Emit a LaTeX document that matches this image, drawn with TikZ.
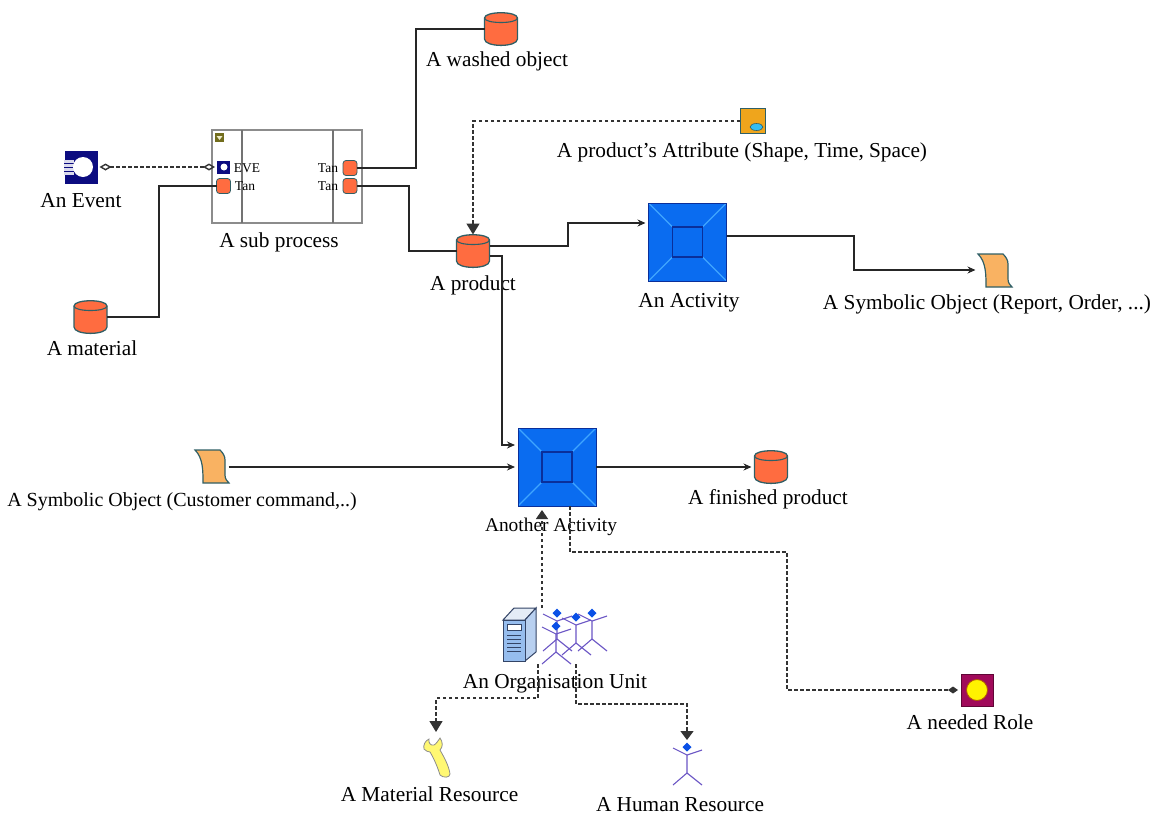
\documentclass[tikz,border=0pt]{standalone}
\usepackage{fontspec}
\setmainfont{Liberation Serif}
\usetikzlibrary{arrows.meta}
\definecolor{tanfill}{HTML}{FF6C40}
\definecolor{tanline}{HTML}{2F5F66}
\definecolor{actfill}{HTML}{0A6CF0}
\definecolor{actline}{HTML}{3FA6FF}
\definecolor{actedge}{HTML}{0A2F9A}
\definecolor{symfill}{HTML}{F9B262}
\definecolor{attfill}{HTML}{EFA51C}
\definecolor{rolefill}{HTML}{A00A5A}
\definecolor{evefill}{HTML}{0C0C80}
\definecolor{manline}{HTML}{6A55C4}
\definecolor{manhead}{HTML}{0A50E6}
\definecolor{srvedge}{HTML}{334466}
\definecolor{srvfront}{HTML}{96BDEE}
\definecolor{srvside}{HTML}{B8D0F0}
\definecolor{srvtop}{HTML}{E4ECF6}
\tikzset{
  lbl/.style = {inner sep=0pt, text height=14pt, text depth=0pt, font=\fontsize{21.3}{24}\selectfont},
  small/.style = {inner sep=0pt, font=\fontsize{13.5}{15}\selectfont},
  blank/.style = {inner sep=0pt, outer sep=0pt, minimum width=#1, minimum height=#1},
  port/.style = {draw=tanline, line width=0.8pt, fill=tanfill, rounded corners=3pt, inner sep=0pt, outer sep=0pt, minimum width=14, minimum height=15},
  activity/.style = {draw=actedge, line width=0.8pt, fill=actfill, inner sep=0pt, outer sep=0pt, minimum width=78, minimum height=78, path picture={
    \draw[actline, line width=1.2pt] (path picture bounding box.north west) -- ++(24,24)
      (path picture bounding box.north east) -- ++(-24,24)
      (path picture bounding box.south west) -- ++(24,-24)
      (path picture bounding box.south east) -- ++(-24,-24);
    \draw[actedge, line width=1.5pt] (path picture bounding box.center) ++(-15,-15) rectangle ++(30,30);
  }},
  conn/.style = {line width=1.4pt, black!85},
  link/.style = {conn, shorten >=3pt},
  dashline/.style = {line width=1.4pt, black!80, dash pattern=on 3.5pt off 2.5pt},
  pics/tank/.style = {code={
    \draw[draw=tanline, line width=1.3pt, fill=tanfill] (-16.5,-11) .. controls (-16.5,-18) and (16.5,-18) .. (16.5,-11) -- (16.5,10) .. controls (16.5,18.5) and (-16.5,18.5) .. (-16.5,10) -- cycle;
    \draw[tanline, line width=1.1pt] (-16.5,-11) .. controls (-16.5,-5) and (16.5,-5) .. (16.5,-11);
  }},
  pics/symbolic/.style = {code={
    \draw[draw=tanline, line width=1.2pt, fill=symfill] (0,0) -- (25,0) .. controls (28,3) and (30,6) .. (30,10) -- (30,25) .. controls (30,29) and (32,31) .. (34,33) -- (8,33) .. controls (8,20) and (8,8) .. (0,0) -- cycle;
  }},
  pics/person/.style = {code={
    \draw[manline, line width=1.1pt] (-14,1) -- (0,8) -- (15,3) (0,8) -- (0,26) (-14,38) -- (0,26) -- (15,38);
    \fill[manhead] (-4.5,0) -- (0,-4.5) -- (4.5,0) -- (0,4.5) -- cycle;
  }},
}
\begin{document}
\begin{tikzpicture}[x=1pt, y=-1pt, >={Stealth[length=8pt,width=7pt]}]
\useasboundingbox[clip] (0,0) rectangle (1163,814);
\node[blank=33, fill=evefill] (event) at (81,167) {};
\fill[white!85!evefill] (64,160) rectangle (74,175);
\foreach \i in {163,167,171} {\draw[evefill, line width=0.8pt] (64,\i) -- (74,\i);}
\fill[white] (83,167) circle (10);
\node[lbl] (eventlabel) at (81,200.5) {An Event};
\node[draw=black!45, line width=1.2pt, minimum width=150, minimum height=93, inner sep=0pt, outer sep=0pt] (sub) at (287,176.5) {};
\draw[black!55, line width=1.2pt] (242,130) -- (242,223) (333,130) -- (333,223);
\node[blank=9, fill=olive!75!black] (subflag) at (219.5,137.5) {};
\fill[white!85!olive] (216.5,136) -- (222.5,136) -- (219.5,140) -- cycle;
\node[blank=13, fill=evefill] (eve) at (223.5,167) {};
\fill[white] (224,167) circle (3.5);
\node[port] (tanin) at (223.5,186) {};
\node[port] (tanup) at (350,168) {};
\node[port] (tandown) at (350,186) {};
\node[small] (evelabel) at (247,168) {EVE};
\node[small] (taninlabel) at (245,186) {Tan};
\node[small] (tanuplabel) at (328,168) {Tan};
\node[small] (tandownlabel) at (328,186) {Tan};
\node[lbl] (sublabel) at (279,240) {A sub process};
\node[blank=33] (washed) at (501,29) {};
\pic at (501,29) {tank};
\node[lbl] (washedlabel) at (497,59) {A washed object};
\node[blank=33] (material) at (90.5,317) {};
\pic at (90.5,317) {tank};
\node[lbl] (materiallabel) at (92,348) {A material};
\node[blank=33] (product) at (473,251) {};
\pic at (473,251) {tank};
\node[lbl] (productlabel) at (473,283) {A product};
\node[blank=33] (finished) at (771,467) {};
\pic at (771,467) {tank};
\node[lbl] (finishedlabel) at (768,497) {A finished product};
\node[blank=25, draw=tanline, line width=1pt, fill=attfill] (attribute) at (752.5,121) {};
\draw[tanline, line width=0.6pt, fill=cyan!80!white] (756.5,127) ellipse (6.5 and 3.5);
\node[lbl] (attributelabel) at (742,150) {A product’s Attribute (Shape, Time, Space)};
\node[activity] (act) at (687.5,242) {};
\node[lbl] (actlabel) at (689,300) {An Activity};
\node[activity] (other) at (557,467) {};
\node[lbl, font=\fontsize{19.4}{22}\selectfont] (otherlabel) at (551,524) {Another Activity};
\node[blank=33] (report) at (995,270) {};
\pic at (978,254) {symbolic};
\node[lbl] (reportlabel) at (987,302) {A Symbolic Object (Report, Order, ...)};
\node[blank=33] (command) at (212,467) {};
\pic at (195,450) {symbolic};
\node[lbl, font=\fontsize{20}{22}\selectfont] (commandlabel) at (182,499) {A Symbolic Object (Customer command,..)};
\node[blank=32, draw=rolefill!60!black, line width=0.6pt, fill=rolefill] (role) at (977,690) {};
\draw[orange!70!black, line width=0.8pt, fill=yellow] (977,690) circle (10.5);
\node[lbl] (rolelabel) at (970,722) {A needed Role};
\node[blank=56, minimum width=106] (unit) at (555,636) {};
\draw[srvedge, line width=1pt, fill=srvtop] (503,620) -- (514,608) -- (536,608) -- (525,620) -- cycle;
\draw[srvedge, line width=1pt, fill=srvside] (525,620) -- (536,608) -- (536,652) -- (525,661) -- cycle;
\draw[srvedge, line width=1pt, fill=srvfront] (503,620) rectangle (525,661);
\draw[srvedge, line width=0.8pt, fill=white] (507,624) rectangle (521,630);
\foreach \i in {635,639,643,647,651} {\draw[srvedge, line width=0.8pt] (507,\i) -- (521,\i);}
\pic at (557,613) {person};
\pic at (576,617) {person};
\pic at (592,613) {person};
\pic at (556,626) {person};
\node[lbl] (unitlabel) at (555,681) {An Organisation Unit};
\node[blank=40, minimum width=30] (wrench) at (436,758) {};
\draw[black!45, line width=0.8pt, fill=yellow!55!white] (424,749) .. controls (423,745) and (425,741) .. (429,739) .. controls (428,743) and (431,746) .. (434,745) .. controls (436,744) and (438,741) .. (440,738) .. controls (443,742) and (443,747) .. (440,750) .. controls (444,757) and (449,766) .. (450,774) .. controls (450,778) and (443,778) .. (440,775) .. controls (437,765) and (433,757) .. (430,752) .. controls (428,752) and (426,751) .. (424,749) -- cycle;
\node[lbl] (wrenchlabel) at (429.5,794.5) {A Material Resource};
\node[blank=40, minimum width=30] (human) at (687,766) {};
\pic at (687,747) {person};
\node[lbl] (humanlabel) at (680,804) {A Human Resource};
\draw[dashline, {Diamond[open,length=12pt,width=7pt]}-{Diamond[open,length=12pt,width=7pt]}] ([xshift=2pt]event.east) -- ([xshift=-2pt]eve.west);
\draw[conn] (material.east) -| (159,186) -- (tanin.west);
\draw[conn] (tanup.east) -| (416,29) -- (washed.west);
\draw[conn] (tandown.east) -| (409,251) -- (product.west);
\draw[->, link] ([yshift=5pt]product.east) -| (568,223) -- ([yshift=19pt]act.west);
\draw[->, link] ([yshift=6pt]act.east) -| (854,270) -- (report.west);
\draw[->, link] ([yshift=-5pt]product.east) -| (502,445) -- ([yshift=22pt]other.west);
\draw[->, link] (command.east) -- (other.west);
\draw[->, link] (other.east) -- (finished.west);
\draw[dashline, -{Triangle[length=11pt,width=13pt]}] (attribute.west) -| (product.north);
\draw[dashline, -{Triangle[length=9pt,width=12pt]}] ([xshift=-13pt]unit.north) -- ([xshift=-15pt,yshift=-4pt]other.south);
\draw[dashline, -{Diamond[length=10pt,width=7pt]}] ([xshift=13pt]other.south) |- (787,552) |- ([xshift=-3pt]role.west);
\draw[dashline, -{Triangle[length=11pt,width=13pt]}] ([xshift=-17pt]unit.south) |- (436,698) -- ([yshift=6pt]wrench.north);
\draw[dashline, -{Triangle[length=9pt,width=13pt]}] ([xshift=21pt]unit.south) |- (687,704) -- ([yshift=6pt]human.north);
\end{tikzpicture}
\end{document}
